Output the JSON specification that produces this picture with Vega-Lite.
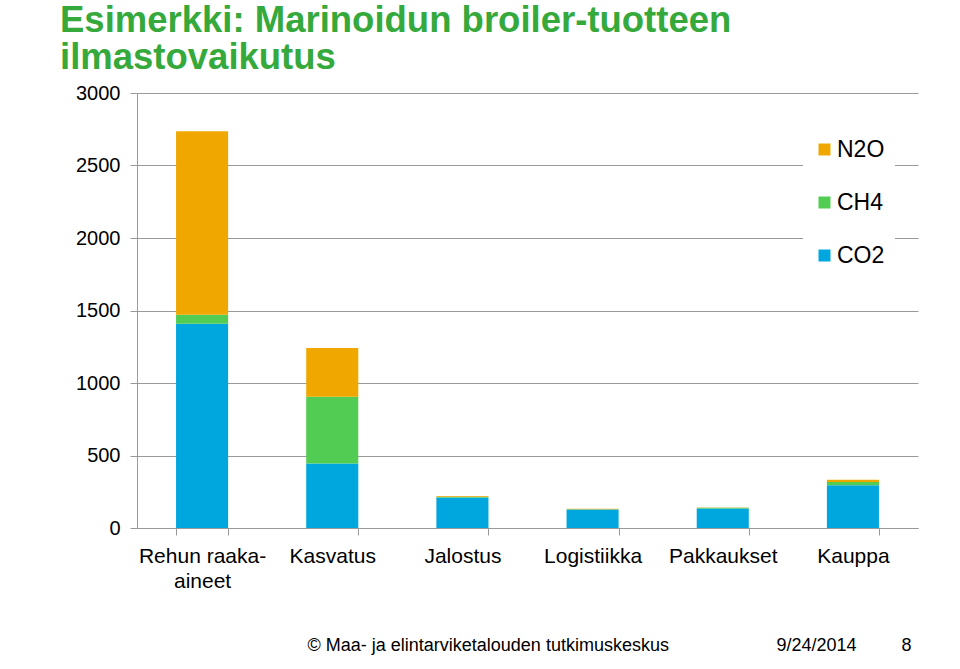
{
  "$schema": "https://vega.github.io/schema/vega-lite/v6.json",
  "width": 781,
  "height": 435,
  "autosize": {"type": "none"},
  "padding": {"left": 137, "top": 93, "right": 42, "bottom": 141},
  "background": "white",
  "config": {"view": {"stroke": null}, "font": "Liberation Sans"},
  "title": {
    "text": ["Esimerkki: Marinoidun broiler-tuotteen", "ilmastovaikutus"],
    "anchor": "start",
    "frame": "group",
    "dx": -77,
    "fontSize": 36.5,
    "fontWeight": "bold",
    "color": "#35A93C",
    "lineHeight": 37,
    "offset": 7,
    "font": "Liberation Sans"
  },
  "data": {
    "values": [
      {"stage": "Rehun raaka-aineet", "gas": "CO2", "rank": 1, "value": 1409},
      {"stage": "Rehun raaka-aineet", "gas": "CH4", "rank": 2, "value": 62},
      {"stage": "Rehun raaka-aineet", "gas": "N2O", "rank": 3, "value": 1265},
      {"stage": "Kasvatus", "gas": "CO2", "rank": 1, "value": 444},
      {"stage": "Kasvatus", "gas": "CH4", "rank": 2, "value": 462},
      {"stage": "Kasvatus", "gas": "N2O", "rank": 3, "value": 335},
      {"stage": "Jalostus", "gas": "CO2", "rank": 1, "value": 210},
      {"stage": "Jalostus", "gas": "CH4", "rank": 2, "value": 6},
      {"stage": "Jalostus", "gas": "N2O", "rank": 3, "value": 4},
      {"stage": "Logistiikka", "gas": "CO2", "rank": 1, "value": 128},
      {"stage": "Logistiikka", "gas": "CH4", "rank": 2, "value": 2},
      {"stage": "Logistiikka", "gas": "N2O", "rank": 3, "value": 2},
      {"stage": "Pakkaukset", "gas": "CO2", "rank": 1, "value": 134},
      {"stage": "Pakkaukset", "gas": "CH4", "rank": 2, "value": 5},
      {"stage": "Pakkaukset", "gas": "N2O", "rank": 3, "value": 2},
      {"stage": "Kauppa", "gas": "CO2", "rank": 1, "value": 294},
      {"stage": "Kauppa", "gas": "CH4", "rank": 2, "value": 23},
      {"stage": "Kauppa", "gas": "N2O", "rank": 3, "value": 16}
    ]
  },
  "mark": {"type": "bar"},
  "encoding": {
    "x": {
      "field": "stage",
      "type": "nominal",
      "sort": ["Rehun raaka-aineet", "Kasvatus", "Jalostus", "Logistiikka", "Pakkaukset", "Kauppa"],
      "scale": {"paddingInner": 0.6, "paddingOuter": 0.3},
      "axis": {
        "title": "© Maa- ja elintarviketalouden tutkimuskeskus",
        "titleX": 170,
        "titleY": 122,
        "titleAlign": "left",
        "titleAnchor": "start",
        "titleBaseline": "alphabetic",
        "titleFontSize": 18,
        "titleFontWeight": "normal",
        "titleColor": "#000000",
        "tickBand": "extent",
        "ticks": true,
        "tickSize": 7,
        "tickWidth": 1,
        "tickColor": "#999999",
        "domainColor": "#999999",
        "labelAngle": 0,
        "labelFontSize": 21,
        "labelColor": "#000000",
        "labelLineHeight": 25,
        "labelPadding": 10,
        "labelLimit": 300,
        "labelExpr": "datum.value == 'Rehun raaka-aineet' ? ['Rehun raaka-', 'aineet'] : datum.value"
      }
    },
    "y": {
      "field": "value",
      "type": "quantitative",
      "stack": "zero",
      "scale": {"domain": [0, 3000], "nice": false},
      "axis": {
        "values": [0, 500, 1000, 1500, 2000, 2500, 3000],
        "format": "d",
        "title": "9/24/2014\u00a0\u00a0\u00a0\u00a0\u00a0\u00a0\u00a0\u00a0\u00a08",
        "titleAngle": 0,
        "titleX": 639,
        "titleY": 557,
        "titleAlign": "left",
        "titleBaseline": "alphabetic",
        "titleFontSize": 18,
        "titleFontWeight": "normal",
        "titleColor": "#000000",
        "labelFontSize": 20,
        "labelColor": "#000000",
        "labelPadding": 10,
        "tickSize": 7,
        "tickColor": "#999999",
        "domainColor": "#999999",
        "gridColor": "#999999",
        "grid": true
      }
    },
    "color": {
      "field": "gas",
      "type": "nominal",
      "scale": {"domain": ["N2O", "CH4", "CO2"], "range": ["#F0A800", "#52CC52", "#00A6DE"]},
      "legend": {
        "orient": "none",
        "legendX": 666,
        "legendY": 35,
        "title": null,
        "symbolType": "square",
        "symbolSize": 144,
        "symbolStrokeWidth": 0,
        "labelFontSize": 23,
        "labelColor": "#000000",
        "labelOffset": 1,
        "rowPadding": 29,
        "fillColor": "white",
        "padding": 10
      }
    },
    "order": {"field": "rank", "type": "quantitative"}
  }
}
